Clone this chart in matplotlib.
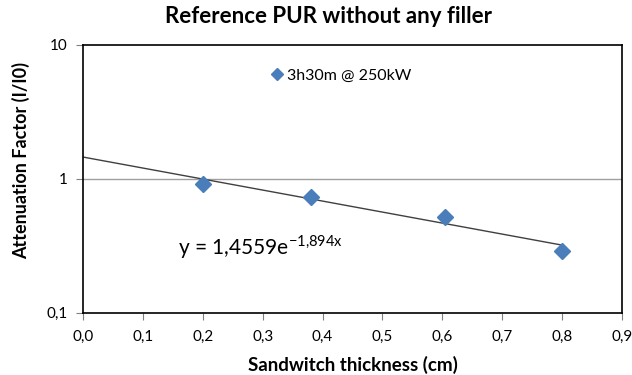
import matplotlib
matplotlib.use("Agg")
import matplotlib.pyplot as plt
import numpy as np
from matplotlib.ticker import FuncFormatter, FixedLocator, NullLocator

plt.rcParams['font.family'] = ['Lato', 'DejaVu Sans']
plt.rcParams['mathtext.fontset'] = 'custom'
plt.rcParams['mathtext.rm'] = 'Lato'

thickness = [0.2, 0.38, 0.605, 0.8]
attenuation = [0.92, 0.73, 0.52, 0.29]
fit_a = 1.4559
fit_b = -1.894
series_label = "3h30m @ 250kW"
x_ticks = [0.0, 0.1, 0.2, 0.3, 0.4, 0.5, 0.6, 0.7, 0.8, 0.9]
y_ticks = [0.1, 1, 10]
y_tick_labels = ["0,1", "1", "10"]

fig = plt.figure(figsize=(6.32, 3.75), dpi=100)
ax = fig.add_axes([0.1313, 0.166, 0.853, 0.714])

ax.set_yscale('log')
ax.set_xlim(0, 0.9)
ax.set_ylim(0.1, 10)

ax.axhline(1, color='#a0a0a0', lw=1, zorder=1)

xf = np.linspace(0, 0.8, 50)
ax.plot(xf, fit_a * np.exp(fit_b * xf), color='#404040', lw=1, zorder=2)

ax.plot(thickness, attenuation, ls='none', marker='D', ms=8,
        color='#4a7ebb', zorder=3, label=series_label)

ax.xaxis.set_major_locator(FixedLocator(x_ticks))
ax.xaxis.set_major_formatter(FuncFormatter(lambda v, p: f"{v:.1f}".replace('.', ',')))
ax.yaxis.set_major_locator(FixedLocator(y_ticks))
ax.yaxis.set_major_formatter(FuncFormatter(lambda v, p: y_tick_labels[y_ticks.index(v)] if v in y_ticks else ""))
ax.yaxis.set_minor_locator(NullLocator())

ax.tick_params(axis='both', labelsize=11, length=5, width=0.8, color='#808080', direction='out')
ax.tick_params(axis='x', pad=7)
ax.tick_params(axis='y', pad=6)

for s in ax.spines.values():
    s.set_color('black')
    s.set_linewidth(1.2)

ax.set_xlabel("Sandwitch thickness (cm)", fontsize=13.5, fontweight='bold', labelpad=9)
ax.set_ylabel("Attenuation Factor (I/I0)", fontsize=13, fontweight='bold')
ax.yaxis.set_label_coords(-0.098, 0.57)
fig.suptitle("Reference PUR without any filler", fontsize=16, fontweight='bold', x=0.52, y=0.985)

ax.legend(loc='upper left', bbox_to_anchor=(0.325, 0.965), frameon=False, fontsize=11.5,
          handlelength=0.6, handletextpad=0.3, markerscale=0.75)

ax.text(0.158, 0.272, r"y = 1,4559e$^{\mathrm{-1{,}894x}}$", fontsize=15, transform=ax.transData)

fig.savefig("out.png", dpi=100)
